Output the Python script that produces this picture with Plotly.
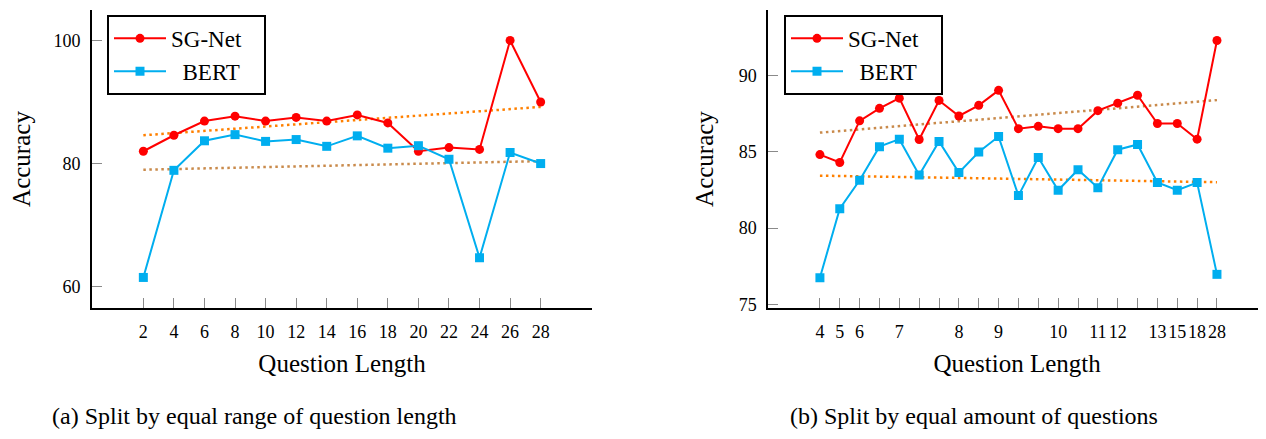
import plotly.graph_objects as go

# ---------------- data: (a) equal range of question length ----------------
len_a = [2, 4, 6, 8, 10, 12, 14, 16, 18, 20, 22, 24, 26, 28]
sg_a = [82.0, 84.6, 86.9, 87.7, 86.9, 87.5, 86.9, 87.9, 86.6, 82.0, 82.6, 82.3, 100.0, 90.0]
bert_a = [61.5, 78.9, 83.7, 84.7, 83.6, 83.9, 82.8, 84.5, 82.5, 82.9, 80.7, 64.7, 81.8, 80.0]
trend_x_a = [2, 28]
trend_sg_a = [84.6, 89.2]
trend_bert_a = [79.0, 80.4]
yticks_a = [60, 80, 100]

# ---------------- data: (b) equal amount of questions ----------------
labels_b = ["4", "5", "6", "", "7", "", "", "8", "", "9", "", "", "10", "",
            "11", "12", "", "13", "15", "18", "28"]
pos_b = list(range(len(labels_b)))
sg_b = [84.82, 84.30, 87.03, 87.85, 88.52, 85.81, 88.37, 87.35, 88.05, 89.03, 86.52,
        86.67, 86.52, 86.52, 87.70, 88.19, 88.71, 86.86, 86.86, 85.83, 92.30]
bert_b = [76.75, 81.27, 83.14, 85.34, 85.83, 83.48, 85.68, 83.64, 84.99, 86.00, 82.13,
          84.63, 82.48, 83.83, 82.65, 85.14, 85.48, 82.99, 82.48, 82.99, 76.97]
trend_x_b = [0, 20]
trend_sg_b = [86.26, 88.39]
trend_bert_b = [83.44, 83.01]
yticks_b = [75, 80, 85, 90]

series_names = ["SG-Net", "BERT"]

# ---------------- styling ----------------
PAGE_OFF = 8            # default body margin of the html page
W, H = 1266 - PAGE_OFF, 439 - PAGE_OFF
FONT = "Liberation Serif, Times New Roman, serif"
RED = "#ff0000"
CYAN = "#00aeef"
ORANGE = "#ff8000"
BROWN = "#c98a4b"
DOT = "2.5px,3.5px"
NB = "\u00a0"

# legend labels: BERT centred under SG-Net, some right padding inside the box
legend_sg = series_names[0] + NB * 3
legend_bert = NB * 2 + series_names[1]

fig = go.Figure()

def add_series(x, y, name, color, symbol, xa, ya, legend):
    fig.add_trace(go.Scatter(
        x=x, y=y, name=name, mode="lines+markers",
        line=dict(color=color, width=2),
        marker=dict(color=color, symbol=symbol, size=9, line=dict(width=0)),
        xaxis=xa, yaxis=ya, legend=legend))

def add_trend(x, y, color, xa, ya):
    fig.add_trace(go.Scatter(
        x=x, y=y, mode="lines", showlegend=False,
        line=dict(color=color, width=2.5, dash=DOT),
        xaxis=xa, yaxis=ya, hoverinfo="skip"))

add_trend(trend_x_a, trend_sg_a, ORANGE, "x", "y")
add_trend(trend_x_a, trend_bert_a, BROWN, "x", "y")
add_series(len_a, sg_a, legend_sg, RED, "circle", "x", "y", "legend")
add_series(len_a, bert_a, legend_bert, CYAN, "square", "x", "y", "legend")

add_trend(trend_x_b, trend_sg_b, BROWN, "x2", "y2")
add_trend(trend_x_b, trend_bert_b, ORANGE, "x2", "y2")
add_series(pos_b, sg_b, legend_sg, RED, "circle", "x2", "y2", "legend2")
add_series(pos_b, bert_b, legend_bert, CYAN, "square", "x2", "y2", "legend2")

def px_x(p):
    return (p - PAGE_OFF) / W

def px_y(p):
    return (H - (p - PAGE_OFF)) / H

ydom = [px_y(313), px_y(10)]

common_axis = dict(showline=True, linecolor="black", linewidth=2, mirror=False,
                   showgrid=False, zeroline=False, ticks="inside", ticklen=10,
                   tickwidth=1, tickcolor="#8a8a8a", tickangle=0,
                   tickfont=dict(family=FONT, size=18, color="black"),
                   ticklabelstandoff=6)

title_font = dict(family=FONT, size=25, color="black")

legend_common = dict(xanchor="left", yanchor="top", bordercolor="black", borderwidth=2,
                     bgcolor="white", itemwidth=52, tracegroupgap=0,
                     font=dict(family=FONT, size=23, color="black"))

fig.update_layout(
    width=W, height=H,
    margin=dict(l=0, r=0, t=0, b=0),
    paper_bgcolor="white", plot_bgcolor="white",
    font=dict(family=FONT, color="black"),
    xaxis=dict(domain=[px_x(92), px_x(592)], range=[-1.36, 31.36], anchor="y",
               tickvals=len_a, ticktext=[str(v) for v in len_a],
               title=dict(text="Question Length", font=title_font, standoff=14),
               **common_axis),
    yaxis=dict(domain=ydom, range=[56.53, 104.95], anchor="x",
               tickvals=yticks_a,
               title=dict(text="Accuracy", font=title_font, standoff=18),
               **common_axis),
    xaxis2=dict(domain=[px_x(768.3), 1.0], range=[-2.60, 22.47], anchor="y2",
                tickvals=pos_b, ticktext=labels_b,
                title=dict(text="Question Length", font=title_font, standoff=14),
                **common_axis),
    yaxis2=dict(domain=ydom, range=[74.76, 94.30], anchor="x2",
                tickvals=yticks_b,
                title=dict(text="Accuracy", font=title_font, standoff=18),
                **common_axis),
    legend=dict(x=px_x(107), y=px_y(15), **legend_common),
    legend2=dict(x=px_x(784), y=px_y(15), **legend_common),
    showlegend=True,
    annotations=[
        dict(text="(a) Split by equal range of question length", x=px_x(254), y=px_y(423),
             xref="paper", yref="paper", xanchor="center", yanchor="middle", showarrow=False,
             font=dict(family=FONT, size=24, color="black")),
        dict(text="(b) Split by equal amount of questions", x=px_x(974), y=px_y(423),
             xref="paper", yref="paper", xanchor="center", yanchor="middle", showarrow=False,
             font=dict(family=FONT, size=24, color="black")),
    ],
)

fig.write_html("out.html")
